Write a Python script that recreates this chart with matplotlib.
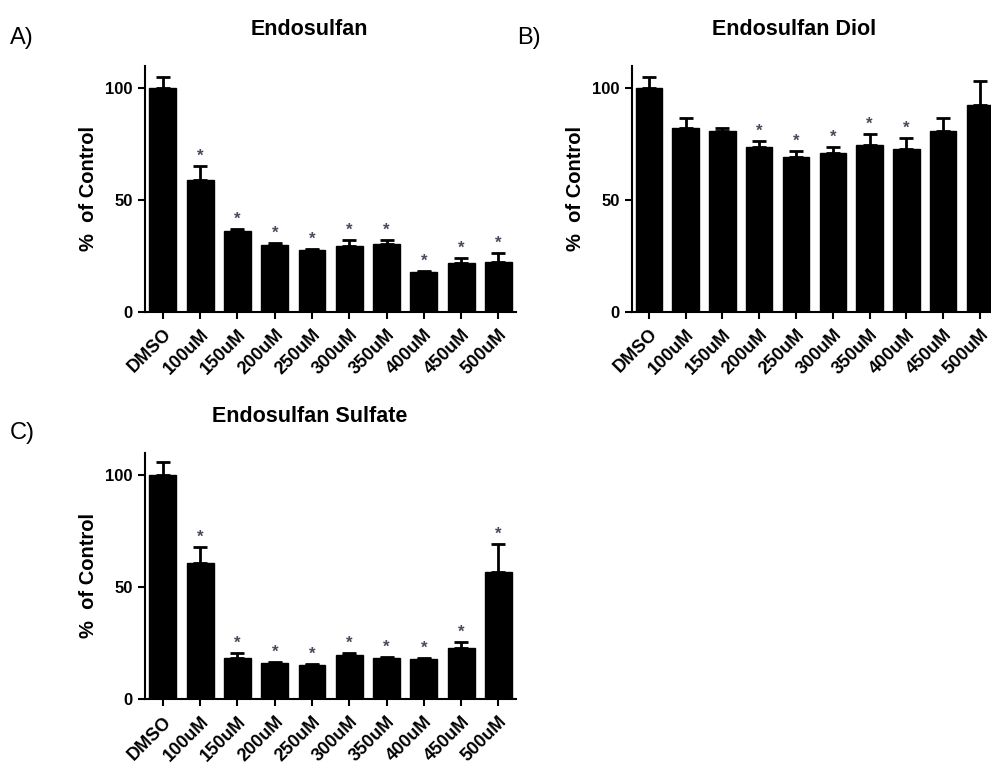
import matplotlib.pyplot as plt
import numpy as np

plt.rcParams['font.family'] = ['Liberation Sans', 'DejaVu Sans']

labels = ['DMSO', '100uM', '150uM', '200uM', '250uM', '300uM', '350uM', '400uM', '450uM', '500uM']

# mean % of control and upper error (SEM) for each panel
endo_mean = [100, 59, 36, 30, 27.5, 29.5, 30.5, 18, 22, 22.5]
endo_err = [5, 6, 1, 1, 0.8, 2.5, 1.5, 0.3, 2.2, 3.8]
endo_sig = [0, 1, 1, 1, 1, 1, 1, 1, 1, 1]

diol_mean = [100, 82, 81, 73.8, 69.3, 70.8, 74.5, 73, 80.8, 92.4]
diol_err = [5, 4.5, 1, 2.7, 2.7, 3, 5, 4.5, 5.7, 10.6]
diol_sig = [0, 0, 0, 1, 1, 1, 1, 1, 0, 0]

sulf_mean = [100, 60.9, 18.3, 16.3, 15.5, 19.8, 18.6, 17.8, 23, 56.9]
sulf_err = [5.9, 6.9, 2.2, 0.4, 0.4, 1, 0.4, 0.5, 2.7, 12.3]
sulf_sig = [0, 1, 1, 1, 1, 1, 1, 1, 1, 1]


def panel(ax, mean, err, sig, title, xl):
    x = np.arange(len(labels))
    ax.bar(x, mean, width=0.72, color='black', edgecolor='black', zorder=2)
    ax.errorbar(x, mean, yerr=[np.zeros(len(err)), err], fmt='none', ecolor='black',
                elinewidth=2, capsize=5, capthick=2, zorder=1)
    for xi, m, e, s in zip(x, mean, err, sig):
        if s:
            ax.text(xi, m + e + 1.0, '*', ha='center', va='bottom', fontsize=12,
                    color='#4a4a5a', fontweight='bold')
    ax.set_xlim(xl)
    ax.set_ylim(0, 110)
    ax.set_yticks([0, 50, 100])
    ax.set_xticks(x)
    ax.set_xticklabels(labels, rotation=45, ha='right', rotation_mode='anchor',
                       fontweight='bold', fontsize=13)
    for t in ax.get_yticklabels():
        t.set_fontweight('bold')
        t.set_fontsize(12)
    ax.tick_params(axis='both', direction='out', length=5, width=1.5, pad=4)
    ax.tick_params(axis='x', pad=5)
    for s in ['top', 'right']:
        ax.spines[s].set_visible(False)
    for s in ['left', 'bottom']:
        ax.spines[s].set_linewidth(1.5)
    ax.set_ylabel('%  of Control', fontweight='bold', fontsize=14.5, labelpad=5)
    ax.set_title(title, fontweight='bold', fontsize=15.5, pad=22, x=0.443)


fig = plt.figure(figsize=(9.91, 7.64), dpi=100)
axA = fig.add_axes([0.1463, 0.5916, 0.3744, 0.3225])
axB = fig.add_axes([0.6377, 0.5916, 0.3686, 0.3225])
axC = fig.add_axes([0.1463, 0.0847, 0.3744, 0.3229])

panel(axA, endo_mean, endo_err, endo_sig, 'Endosulfan', (-0.48, 9.47))
panel(axB, diol_mean, diol_err, diol_sig, 'Endosulfan Diol', (-0.46, 9.47))
panel(axC, sulf_mean, sulf_err, sulf_sig, 'Endosulfan Sulfate', (-0.48, 9.47))

fig.text(0.010, 0.950, 'A)', fontsize=17, ha='left', va='center')
fig.text(0.522, 0.950, 'B)', fontsize=17, ha='left', va='center')
fig.text(0.010, 0.433, 'C)', fontsize=17, ha='left', va='center')

fig.savefig('out.png', dpi=100)
